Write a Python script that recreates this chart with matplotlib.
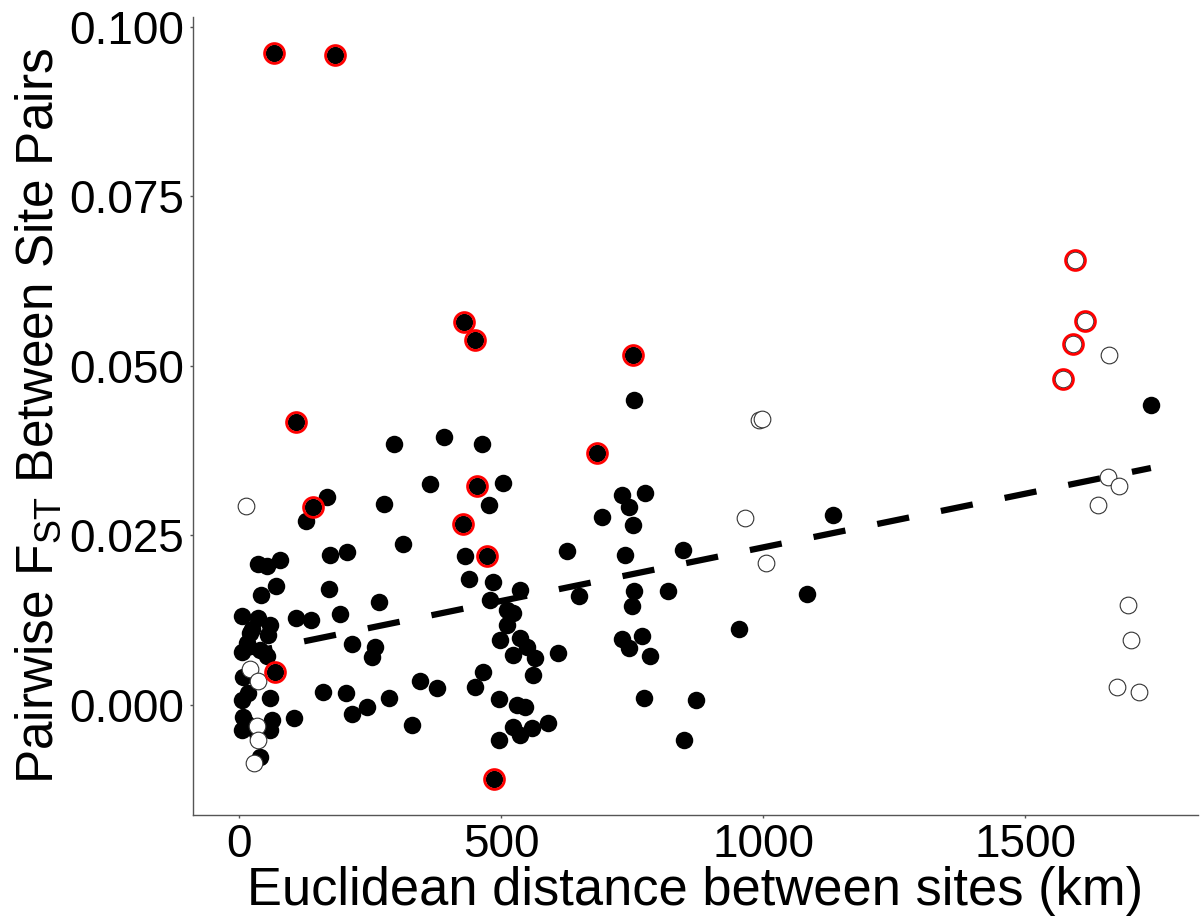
import matplotlib
matplotlib.use("Agg")
import matplotlib.pyplot as plt

plt.rcParams['font.family'] = ['Liberation Sans', 'DejaVu Sans']
plt.rcParams['mathtext.fontset'] = 'custom'
plt.rcParams['mathtext.rm'] = 'Liberation Sans'
plt.rcParams['mathtext.it'] = 'Liberation Sans:italic'

# filled (black) site pairs
black_x = [127, 167, 36, 53, 78, 173, 41, 70, 172, 5, 36, 59, 108, 136, 192,
           20, 14, 5, 40, 52, 7, 5, 17, 59, 104, 7, 5, 33, 62, 59, 40,
           24, 55, 12,
           296, 390, 463, 364, 504, 477, 276, 313, 431, 625, 205, 439, 485,
           536, 479, 511, 523, 511, 267, 215, 259, 253, 498, 536, 549, 523,
           565, 561, 609, 466, 450, 159, 204, 344, 377, 285, 215, 244, 329,
           495, 530, 545, 523, 558, 536, 590, 496,
           754, 730, 775, 743, 692, 751, 1133, 736, 847, 649, 754, 749, 819,
           1083, 953, 730, 768, 743, 783, 773, 872, 849, 1740]
black_y = [0.0271, 0.0306, 0.0208, 0.0204, 0.0213, 0.0221, 0.0162, 0.0175,
           0.0171, 0.0131, 0.0127, 0.0117, 0.0127, 0.0124, 0.0134, 0.0106,
           0.0091, 0.0078, 0.0080, 0.0071, 0.0041, 0.0007, 0.0017, 0.0010,
           -0.0020, -0.0018, -0.0038, -0.0042, -0.0023, -0.0038, -0.0077,
           0.0112, 0.0102, -0.0028,
           0.0384, 0.0395, 0.0385, 0.0326, 0.0327, 0.0294, 0.0296, 0.0237,
           0.0219, 0.0226, 0.0225, 0.0185, 0.0181, 0.0169, 0.0154, 0.0139,
           0.0135, 0.0117, 0.0152, 0.0090, 0.0085, 0.0070, 0.0095, 0.0098,
           0.0085, 0.0073, 0.0068, 0.0044, 0.0076, 0.0048, 0.0026, 0.0019,
           0.0017, 0.0034, 0.0025, 0.0009, -0.0014, -0.0004, -0.0030, 0.0008,
           -0.0001, -0.0003, -0.0033, -0.0035, -0.0045, -0.0028, -0.0052,
           0.0450, 0.0309, 0.0312, 0.0292, 0.0277, 0.0265, 0.0280, 0.0221,
           0.0228, 0.0160, 0.0168, 0.0145, 0.0168, 0.0163, 0.0112, 0.0096,
           0.0101, 0.0083, 0.0071, 0.0009, 0.0006, -0.0053, 0.0442]

# filled pairs flagged in red
red_black_x = [67, 183, 108, 141, 68, 428, 450, 453, 427, 472, 486, 752, 682]
red_black_y = [0.0961, 0.0959, 0.0417, 0.0291, 0.0048, 0.0565, 0.0538,
               0.0322, 0.0267, 0.0219, -0.0110, 0.0516, 0.0371]

# open (white) site pairs
white_x = [12, 20, 36, 33, 36, 27, 991, 997, 965, 1006, 1661, 1659, 1680,
           1640, 1697, 1702, 1676, 1718]
white_y = [0.0293, 0.0053, 0.0035, -0.0032, -0.0052, -0.0087, 0.0420,
           0.0421, 0.0275, 0.0209, 0.0516, 0.0335, 0.0322, 0.0294, 0.0147,
           0.0095, 0.0026, 0.0018]

# open pairs flagged in red
red_white_x = [1596, 1615, 1592, 1573]
red_white_y = [0.0656, 0.0566, 0.0532, 0.0481]

# fitted trend (dashed)
trend_x = [2, 1740]
trend_y = [0.0074, 0.0349]

x_ticks = [0, 500, 1000, 1500]
y_ticks = [0.0, 0.025, 0.05, 0.075, 0.1]

fig = plt.figure(figsize=(12.01, 9.17), dpi=100)
ax = fig.add_axes([0.1605, 0.1109, 0.837, 0.8709])

ax.plot(trend_x, trend_y, color='black', lw=4.5, linestyle=(0, (5.2, 5.2)),
        solid_capstyle='butt', zorder=2)

ax.plot(black_x + red_black_x, black_y + red_black_y, 'o', color='black',
        ms=12.6, mew=0, zorder=3)
ax.plot(white_x + red_white_x, white_y + red_white_y, 'o', mfc='white',
        mec='#333333', ms=12.0, mew=0.8, zorder=4)
ax.plot(red_black_x + red_white_x, red_black_y + red_white_y, 'o',
        mfc='none', mec='#ff0000', ms=14.3, mew=2.0, zorder=5)

ax.set_xlim(-89, 1830)
ax.set_ylim(-0.01635, 0.1015)
ax.set_xticks(x_ticks)
ax.set_yticks(y_ticks)
ax.set_xticklabels([str(v) for v in x_ticks])
ax.set_yticklabels(['%.3f' % v for v in y_ticks])

for s in ['top', 'right']:
    ax.spines[s].set_visible(False)
for s in ['left', 'bottom']:
    ax.spines[s].set_color('#555555')
    ax.spines[s].set_linewidth(1.0)

ax.tick_params(axis='both', length=2.5, width=1.0, color='#555555',
               labelsize=33, labelcolor='black')
ax.tick_params(axis='x', pad=3)
ax.tick_params(axis='y', pad=3.5)

ax.set_xlabel('Euclidean distance between sites (km)', fontsize=37.8,
              labelpad=-1)
ax.set_ylabel(r'Pairwise F$_{\mathrm{ST}}$ Between Site Pairs', fontsize=37,
              labelpad=4)

fig.savefig('out.png', dpi=100)
